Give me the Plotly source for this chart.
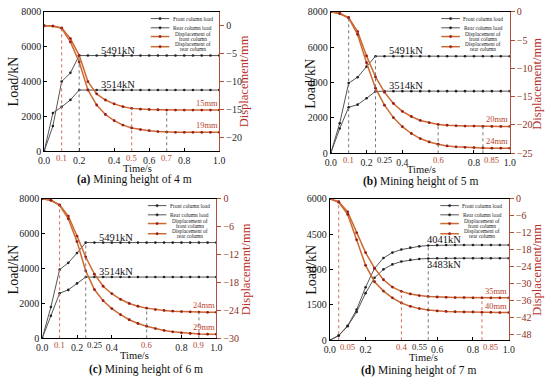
import numpy as np
import plotly.graph_objects as go

W, H = 550, 387
FONT = "Liberation Serif, Times New Roman, serif"
RED = "#b8452e"
RED_LINE = "#d06a5a"
GRAY_LINE = "#777777"
LOAD_COLOR = "#555555"
LOAD_MARK = "#222222"
DISP_COLOR = "#cc6a30"
DISP_MARK = "#9b1c1c"
RAXIS = "#b0503a"

time_s = [0.0, 0.05, 0.1, 0.15, 0.2, 0.25, 0.3, 0.35, 0.4, 0.45, 0.5,
          0.55, 0.6, 0.65, 0.7, 0.75, 0.8, 0.85, 0.9, 0.95, 1.0]

# ---- (a) mining height 4 m ----
front_load_a = [0, 1450, 4000, 4500, 5491, 5491, 5491, 5491, 5491, 5491, 5491,
                5491, 5491, 5491, 5491, 5491, 5491, 5491, 5491, 5491, 5491]
rear_load_a = [0, 2200, 2550, 2950, 3514, 3514, 3514, 3514, 3514, 3514, 3514,
               3514, 3514, 3514, 3514, 3514, 3514, 3514, 3514, 3514, 3514]
front_disp_a = [0, -0.05, -0.4, -2.3, -5.3, -10.0, -12.2, -13.3, -14.0, -14.5, -14.8,
                -14.95, -15.0, -15.05, -15.1, -15.1, -15.1, -15.1, -15.1, -15.1, -15.1]
rear_disp_a = [0, -0.05, -0.45, -2.9, -6.5, -11.5, -14.2, -15.9, -17.0, -17.8, -18.3,
               -18.6, -18.8, -18.95, -19.05, -19.1, -19.1, -19.1, -19.1, -19.1, -19.1]

# ---- (b) mining height 5 m ----
front_load_b = [0, 1700, 3970, 4300, 4900, 5491, 5491, 5491, 5491, 5491, 5491,
                5491, 5491, 5491, 5491, 5491, 5491, 5491, 5491, 5491, 5491]
rear_load_b = [0, 1400, 2600, 2750, 3115, 3500, 3514, 3514, 3514, 3514, 3514,
               3514, 3514, 3514, 3514, 3514, 3514, 3514, 3514, 3514, 3514]
front_disp_b = [0, -0.3, -1.0, -3.5, -7.8, -11.5, -14.2, -16.2, -17.6, -18.5, -19.2,
                -19.6, -19.9, -20.05, -20.15, -20.2, -20.2, -20.25, -20.25, -20.25, -20.25]
rear_disp_b = [0, -0.3, -1.1, -4.0, -9.0, -13.5, -16.5, -18.7, -20.3, -21.5, -22.4,
               -23.0, -23.4, -23.7, -23.85, -23.95, -24.0, -24.05, -24.1, -24.1, -24.1]

# ---- (c) mining height 6 m ----
front_load_c = [0, 1800, 3940, 4330, 4890, 5491, 5491, 5491, 5491, 5491, 5491,
                5491, 5491, 5491, 5491, 5491, 5491, 5491, 5491, 5491, 5491]
rear_load_c = [0, 1300, 2590, 2780, 3150, 3514, 3514, 3514, 3514, 3514, 3514,
               3514, 3514, 3514, 3514, 3514, 3514, 3514, 3514, 3514, 3514]
front_disp_c = [0, -0.3, -1.3, -3.7, -8.0, -12.5, -16.2, -18.8, -20.4, -21.6, -22.5,
                -23.1, -23.5, -23.8, -24.0, -24.15, -24.25, -24.3, -24.35, -24.4, -24.4]
rear_disp_c = [0, -0.3, -1.4, -4.3, -9.2, -15.5, -19.5, -21.9, -23.6, -24.9, -26.0,
               -26.8, -27.4, -27.9, -28.3, -28.6, -28.8, -28.95, -29.05, -29.1, -29.1]

# ---- (d) mining height 7 m ----
front_load_d = [0, 205, 620, 1300, 2250, 3050, 3490, 3720, 3850, 3930, 3985,
                4020, 4035, 4041, 4041, 4041, 4041, 4041, 4041, 4041, 4041]
rear_load_d = [0, 200, 600, 1200, 2000, 2650, 3010, 3220, 3340, 3410, 3450,
               3470, 3480, 3483, 3483, 3483, 3483, 3483, 3483, 3483, 3483]
front_disp_d = [0, -1.0, -4.6, -12.0, -19.0, -24.5, -28.6, -31.2, -32.7, -33.6, -34.2,
                -34.5, -34.7, -34.8, -34.9, -34.9, -35.0, -35.0, -35.0, -35.0, -35.0]
rear_disp_d = [0, -1.2, -5.5, -14.5, -23.5, -29.3, -32.6, -35.0, -36.8, -38.0, -38.8,
               -39.3, -39.6, -39.8, -39.9, -40.0, -40.0, -40.1, -40.1, -40.2, -40.2]

panel_titles = ["<b>(a)</b> Mining height of 4 m", "<b>(b)</b> Mining height of 5 m",
                "<b>(c)</b> Mining height of 6 m", "<b>(d)</b> Mining height of 7 m"]
load_labels_a = ["5491kN", "3514kN"]
load_labels_b = ["5491kN", "3514kN"]
load_labels_c = ["5491kN", "3514kN"]
load_labels_d = ["4041kN", "3483kN"]
disp_labels_a = ["15mm", "19mm"]
disp_labels_b = ["20mm", "24mm"]
disp_labels_c = ["24mm", "29mm"]
disp_labels_d = ["35mm", "40mm"]
legend_lines = [["Front column load"], ["Rear column load"],
                ["Displacement of", "front column"], ["Displacement of", "rear column"]]
main_ticks = [0.0, 0.2, 0.4, 0.6, 0.8, 1.0]


def pxx(x):
    return min(1.0, max(0.0, x / W))


def pyy(y):
    return min(1.0, max(0.0, 1 - y / H))


# special time marks: (time, label colour, label alignment)
panels = [
    dict(fl=front_load_a, rl=rear_load_a, fd=front_disp_a, rd=rear_disp_a,
         ll=load_labels_a, dl=disp_labels_a, title=panel_titles[0],
         dx=(39, 218), dy=(6, 150), lrange=[0, 8000], lticks=[0, 2000, 4000, 6000, 8000],
         rrange=[-22.5, 2.5], rticks=[0, -5, -10, -15, -20], rtickcolor="#2a2a2a",
         special=[(0.1, RED, "center"), (0.5, RED, "center"), (0.7, RED, "center")],
         vlines=[(0.1, "fd", RED_LINE), (0.2, "fl", GRAY_LINE), (0.5, "fd", RED_LINE), (0.7, "fd", GRAY_LINE)],
         load_lab_x=0.42, load_lab_mode="above",
         title_xy=(131, 179), xt_xy=(134, 167.5), lt_xy=(8, 78), rt_xy=(243, 78)),
    dict(fl=front_load_b, rl=rear_load_b, fd=front_disp_b, rd=rear_disp_b,
         ll=load_labels_b, dl=disp_labels_b, title=panel_titles[1],
         dx=(332, 515), dy=(6, 152), lrange=[0, 8000], lticks=[0, 2000, 4000, 6000, 8000],
         rrange=[-25, 0], rticks=[0, -5, -10, -15, -20, -25], rtickcolor="#8a3020",
         special=[(0.1, RED, "center"), (0.25, "#222222", "left"), (0.6, RED, "center"), (0.85, RED, "left")],
         vlines=[(0.1, "fd", GRAY_LINE), (0.25, "fl", GRAY_LINE), (0.6, "fd", GRAY_LINE), (0.85, "fd", GRAY_LINE)],
         load_lab_x=0.42, load_lab_mode="above",
         title_xy=(424, 181), xt_xy=(425, 168.5), lt_xy=(311, 80), rt_xy=(542, 80)),
    dict(fl=front_load_c, rl=rear_load_c, fd=front_disp_c, rd=rear_disp_c,
         ll=load_labels_c, dl=disp_labels_c, title=panel_titles[2],
         dx=(37, 215), dy=(199, 343), lrange=[0, 8000], lticks=[0, 2000, 4000, 6000, 8000],
         rrange=[-30, 0], rticks=[0, -6, -12, -18, -24, -30], rtickcolor="#8a3020",
         special=[(0.1, RED, "center"), (0.25, "#222222", "left"), (0.6, RED, "center"), (0.9, RED, "center")],
         vlines=[(0.1, "fd", RED_LINE), (0.25, "fl", GRAY_LINE), (0.6, "fd", GRAY_LINE), (0.9, "fd", GRAY_LINE)],
         load_lab_x=0.425, load_lab_mode="above",
         title_xy=(143, 375), xt_xy=(131, 361), lt_xy=(8, 272), rt_xy=(245, 272)),
    dict(fl=front_load_d, rl=rear_load_d, fd=front_disp_d, rd=rear_disp_d,
         ll=load_labels_d, dl=disp_labels_d, title=panel_titles[3],
         dx=(331, 514), dy=(199, 345), lrange=[0, 6000], lticks=[0, 1500, 3000, 4500, 6000],
         rrange=[-50, 0], rticks=[0, -6, -12, -18, -24, -30, -36, -42, -48], rtickcolor="#8a3020",
         special=[(0.05, RED, "left"), (0.4, RED, "center"), (0.55, "#222222", "right"), (0.85, RED, "left")],
         vlines=[(0.05, "fd", RED_LINE), (0.4, "fd", RED_LINE), (0.55, "fl", GRAY_LINE), (0.85, "fd", RED_LINE)],
         load_lab_x=0.64, load_lab_mode="split",
         title_xy=(422, 376), xt_xy=(427, 363), lt_xy=(312, 272), rt_xy=(542, 272)),
]

fig = go.Figure()
layout = dict(width=W, height=H, margin=dict(l=0, r=0, t=0, b=0),
              paper_bgcolor="white", plot_bgcolor="white", showlegend=False,
              font=dict(family=FONT, size=10, color="#222222"))
shapes = []
annotations = []

for i, p in enumerate(panels):
    n = i + 1
    xname = "x" if n == 1 else f"x{n}"
    yl = 2 * i + 1
    yr = 2 * i + 2
    ylname = "y" if yl == 1 else f"y{yl}"
    yrname = f"y{yr}"
    xkey = "xaxis" if n == 1 else f"xaxis{n}"
    ylkey = "yaxis" if yl == 1 else f"yaxis{yl}"
    yrkey = f"yaxis{yr}"

    special_times = [s for s, _, _ in p["special"]]
    tv = [v for v in main_ticks if not any(abs(v - s) < 1e-9 for s in special_times)]
    tt = [f"{v:.1f}" for v in tv]

    layout[xkey] = dict(domain=[pxx(p["dx"][0]), pxx(p["dx"][1])], anchor=ylname,
                        range=[0, 1], tickvals=tv, ticktext=tt, showgrid=False, zeroline=False,
                        showline=True, linecolor="black", linewidth=1, mirror=True,
                        ticks="inside", ticklen=3, tickcolor="black",
                        tickfont=dict(family=FONT, size=9.8, color="#222222"))
    layout[ylkey] = dict(domain=[pyy(p["dy"][1]), pyy(p["dy"][0])], anchor=xname,
                         range=p["lrange"], tickvals=p["lticks"], showgrid=False, zeroline=False,
                         showline=True, linecolor="black", linewidth=1,
                         ticks="inside", ticklen=3, tickcolor="black",
                         tickfont=dict(family=FONT, size=10, color="#222222"))
    layout[yrkey] = dict(domain=[pyy(p["dy"][1]), pyy(p["dy"][0])], anchor=xname,
                         overlaying=ylname, side="right",
                         range=p["rrange"], tickvals=p["rticks"], showgrid=False, zeroline=False,
                         showline=True, linecolor=RAXIS, linewidth=1.2,
                         ticks="outside", ticklen=4, tickcolor=RAXIS,
                         tickfont=dict(family=FONT, size=10, color=p["rtickcolor"]))

    # special time labels under the x axis
    for s, col, align in p["special"]:
        annotations.append(dict(x=s, y=pyy(p["dy"][1]), xref=xname, yref="paper",
                                text=f"{s:g}", showarrow=False, xanchor=align, yanchor="top",
                                yshift=-1, borderpad=0,
                                font=dict(family=FONT, size=8.6, color=col)))

    for key, nm in (("fl", "Front column load"), ("rl", "Rear column load")):
        fig.add_trace(go.Scatter(x=time_s, y=p[key], mode="lines+markers", name=nm,
                                 xaxis=xname, yaxis=ylname,
                                 line=dict(color=LOAD_COLOR, width=1),
                                 marker=dict(color=LOAD_MARK, size=2.6)))
    for key, nm in (("fd", "Displacement of front column"), ("rd", "Displacement of rear column")):
        fig.add_trace(go.Scatter(x=time_s, y=p[key], mode="lines+markers", name=nm,
                                 xaxis=xname, yaxis=yrname,
                                 line=dict(color=DISP_COLOR, width=1.5),
                                 marker=dict(color=DISP_MARK, size=2.8)))

    for t, key, col in p["vlines"]:
        if key in ("fl", "rl"):
            yref = ylname
            y0 = p["lrange"][0]
        else:
            yref = yrname
            y0 = p["rrange"][0]
        y1 = float(np.interp(t, time_s, p[key]))
        shapes.append(dict(type="line", xref=xname, yref=yref, x0=t, x1=t, y0=y0, y1=y1,
                           line=dict(color=col, width=1, dash="dot"), layer="above"))

    fl_end = p["fl"][-1]
    rl_end = p["rl"][-1]
    annotations.append(dict(x=p["load_lab_x"], y=fl_end, xref=xname, yref=ylname,
                            text=p["ll"][0], showarrow=False, yanchor="bottom", yshift=-2,
                            font=dict(family=FONT, size=10.5, color="#111111")))
    annotations.append(dict(x=p["load_lab_x"], y=rl_end, xref=xname, yref=ylname,
                            text=p["ll"][1], showarrow=False,
                            yanchor="bottom" if p["load_lab_mode"] == "above" else "top",
                            yshift=-2 if p["load_lab_mode"] == "above" else 1,
                            font=dict(family=FONT, size=10.5, color="#111111")))
    for key, lab in (("fd", p["dl"][0]), ("rd", p["dl"][1])):
        annotations.append(dict(x=0.93, y=p[key][-1], xref=xname, yref=yrname,
                                text=lab, showarrow=False, yanchor="bottom", yshift=0,
                                font=dict(family=FONT, size=8.5, color=RED)))

    annotations.append(dict(x=pxx(p["xt_xy"][0]), y=pyy(p["xt_xy"][1]), xref="paper", yref="paper",
                            text="Time/s", showarrow=False, xanchor="center", yanchor="middle",
                            borderpad=0,
                            font=dict(family=FONT, size=10.5, color="#111111")))
    annotations.append(dict(x=pxx(p["lt_xy"][0]), y=pyy(p["lt_xy"][1]), xref="paper", yref="paper",
                            text="Load/kN", showarrow=False, textangle=-90,
                            xanchor="center", yanchor="middle",
                            font=dict(family=FONT, size=14, color="#111111")))
    annotations.append(dict(x=pxx(p["rt_xy"][0]), y=pyy(p["rt_xy"][1]), xref="paper", yref="paper",
                            text="Displacement/mm", showarrow=False, textangle=-90,
                            xanchor="center", yanchor="middle",
                            font=dict(family=FONT, size=12.5, color="#b8302a")))
    annotations.append(dict(x=pxx(p["title_xy"][0]), y=pyy(p["title_xy"][1]), xref="paper", yref="paper",
                            text=p["title"], showarrow=False, xanchor="center", yanchor="middle",
                            borderpad=0,
                            font=dict(family=FONT, size=11.5, color="#111111")))

    # compact in-plot legend (line sample with marker + text)
    R = p["dx"][1]
    T = p["dy"][0]
    sample_rows = [T + 7, T + 16.5, T + 25.5, T + 36]
    text_rows = [[T + 7], [T + 16.5], [T + 23, T + 28], [T + 33.5, T + 38.5]]
    styles = [(LOAD_COLOR, LOAD_MARK, 1), (LOAD_COLOR, LOAD_MARK, 1),
              (DISP_COLOR, DISP_MARK, 1.5), (DISP_COLOR, DISP_MARK, 1.5)]
    for ry, trs, lines, (lc, mc, lw) in zip(sample_rows, text_rows, legend_lines, styles):
        shapes.append(dict(type="line", xref="paper", yref="paper",
                           x0=pxx(R - 70), x1=pxx(R - 51), y0=pyy(ry), y1=pyy(ry),
                           line=dict(color=lc, width=lw)))
        cx = R - 60.5
        shapes.append(dict(type="circle", xref="paper", yref="paper",
                           x0=pxx(cx - 1.2), x1=pxx(cx + 1.2), y0=pyy(ry + 1.2), y1=pyy(ry - 1.2),
                           fillcolor=mc, line=dict(color=mc, width=0.5)))
        for ty, txt in zip(trs, lines):
            annotations.append(dict(x=pxx(R - 27), y=pyy(ty), xref="paper", yref="paper",
                                    text=txt, showarrow=False, xanchor="center", yanchor="middle",
                                    borderpad=0,
                                    font=dict(family=FONT, size=5.4, color="#222222")))

layout["shapes"] = shapes
layout["annotations"] = annotations
fig.update_layout(**layout)
# remove the default 8px page margin so the figure sits at the window's top-left corner
fig.write_html("out.html", config={"displayModeBar": False},
               post_script="document.body.style.margin='0px';")
